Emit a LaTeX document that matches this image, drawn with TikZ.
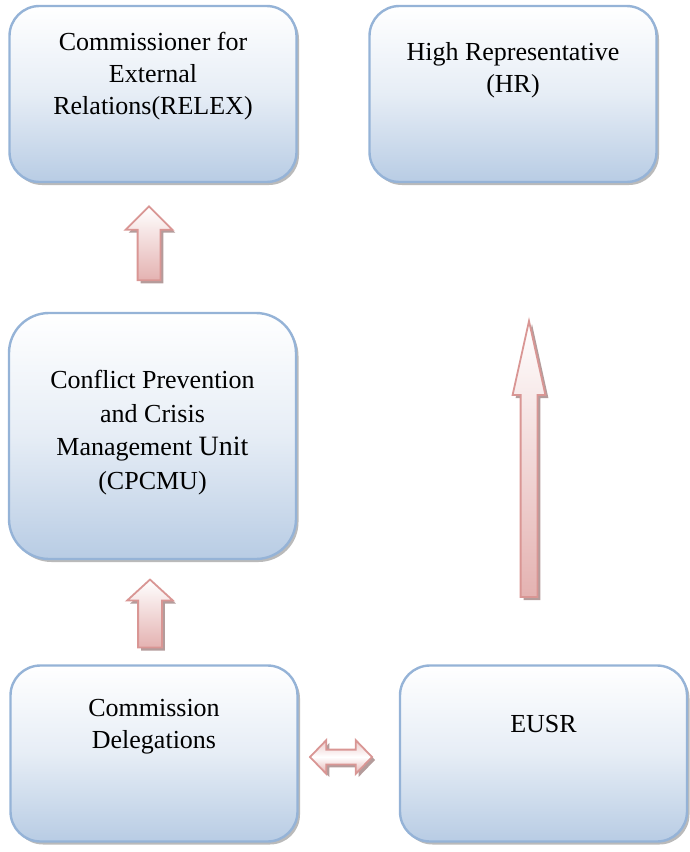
\documentclass[tikz,border=0pt]{standalone}
\usepackage{fontspec}
\setmainfont{Liberation Serif}
\usetikzlibrary{shapes.arrows,shadows}

\definecolor{boxline}{RGB}{149,179,215}
\definecolor{boxfill}{RGB}{184,204,228}
\definecolor{arrline}{RGB}{217,150,148}
\definecolor{arrfill}{RGB}{228,178,177}

\tikzset{
  orgbox/.style={draw=boxline, line width=2.4pt, rounded corners=30pt,
    top color=white, bottom color=boxfill, middle color=boxfill!35,
    minimum width=287pt, minimum height=176pt, inner sep=0pt,
    drop shadow={shadow xshift=2.5pt, shadow yshift=-3pt, fill=black!45, opacity=0.6}},
  boxtext/.style={align=center, font=\fontsize{26}{32}\selectfont, inner sep=0pt, anchor=north},
  blockarrow/.style={single arrow, draw=arrline, line width=1.8pt, inner xsep=0pt,
    rotate=90, single arrow head indent=0pt,
    top color=white, bottom color=arrfill,
    drop shadow={shadow xshift=3pt, shadow yshift=-3pt, fill=arrline!60!black, opacity=0.6}}
}

\begin{document}
\begin{tikzpicture}[x=1pt, y=-1pt]
    \useasboundingbox (0,0) rectangle (690,852);

    % boxes
    \node(relex)[orgbox] at (153,94) {};
    \node(hr)[orgbox] at (513,94) {};
    \node(cpcmu)[orgbox, minimum height=246pt, rounded corners=40pt] at (152.5,436) {};
    \node(deleg)[orgbox] at (154,753.5) {};
    \node(eusr)[orgbox] at (543.5,753.5) {};

    % texts
    \node(relexT)[boxtext] at (153,32) {Commissioner for\\External\\Relations(RELEX)};
    \node(hrT)[boxtext] at (513,42) {High Representative\\(HR)};
    \node(cpcmuT)[boxtext, font=\fontsize{26}{33.5}\selectfont] at (152.5,370)
        {Conflict Prevention\\and Crisis\\Management {\fontsize{28}{33.5}\selectfont Unit}\\(CPCMU)};
    \node(delegT)[boxtext] at (154,699) {Commission\\Delegations};
    \node(eusrT)[boxtext] at (543.5,715) {EUSR};

    % arrows
    \node(up1)[blockarrow, minimum height=74pt, inner ysep=10.5pt,
        single arrow head extend=12pt, single arrow tip angle=90] at (149,249) {};
    \node(up2)[blockarrow, minimum height=68pt, inner ysep=11pt,
        single arrow head extend=11pt, single arrow tip angle=95] at (150,619) {};
    \node(up3)[blockarrow, minimum height=276pt, inner ysep=7.5pt,
        single arrow head extend=8pt, single arrow tip angle=25] at (529,478) {};
    \node(both)[double arrow, draw=arrline, line width=1.8pt, inner xsep=0pt, inner ysep=6.5pt,
        minimum height=62pt, double arrow head extend=9.5pt,
        double arrow tip angle=92, double arrow head indent=0pt,
        top color=arrfill!70, bottom color=arrfill, middle color=white,
        drop shadow={shadow xshift=3pt, shadow yshift=-3pt, fill=arrline!60!black, opacity=0.6}]
        at (341,757) {};

\end{tikzpicture}
\end{document}
